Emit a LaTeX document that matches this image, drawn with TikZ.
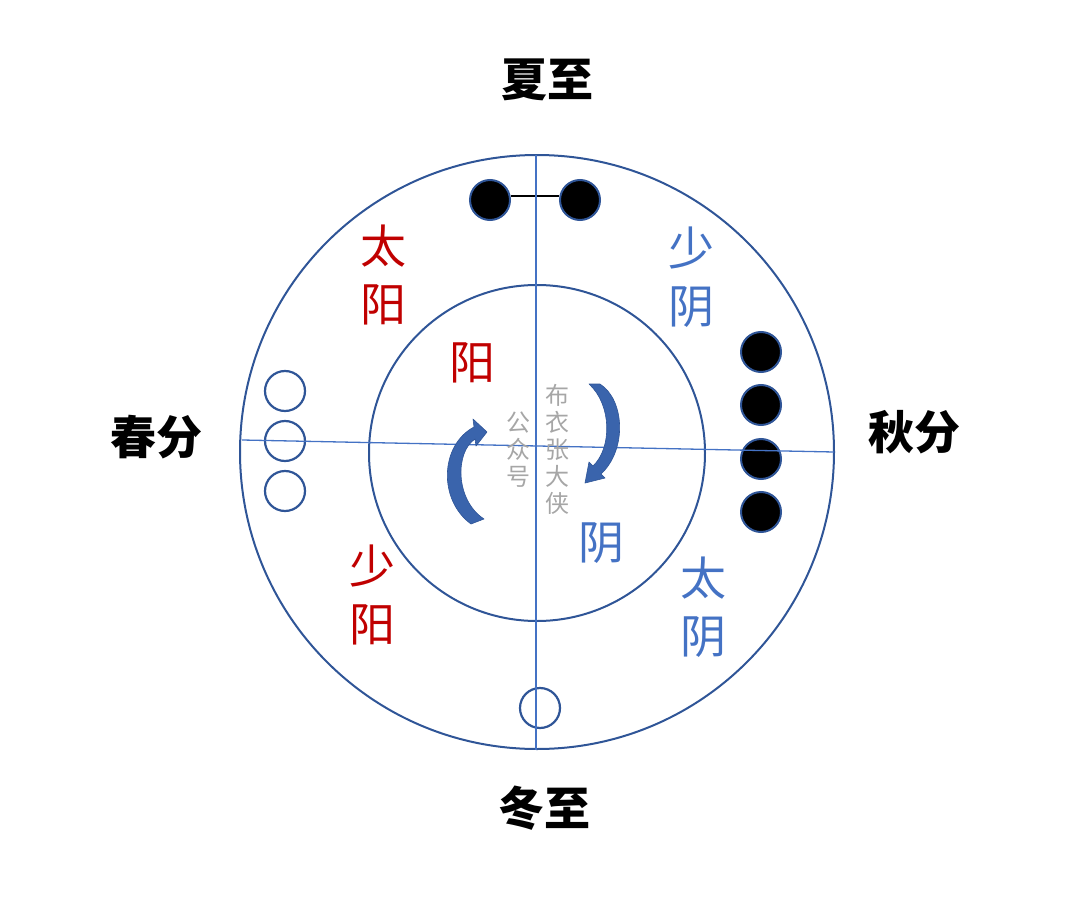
\documentclass[tikz,border=0pt]{standalone}
\usepackage{fontspec}
\newfontfamily\cjk{Noto Sans CJK SC}
\definecolor{circ}{HTML}{2F5597}
\definecolor{axis}{HTML}{4472C4}
\definecolor{yangred}{HTML}{C00000}
\definecolor{yinblue}{HTML}{4472C4}
\definecolor{wm}{HTML}{A6A6A6}
\definecolor{arrowblue}{HTML}{3A64AC}
\tikzset{
  bigring/.style={circle, draw=circ, line width=2pt, inner sep=0pt},
  fulldot/.style={circle, draw=circ, fill=black, line width=2pt, minimum size=40pt, inner sep=0pt},
  opendot/.style={circle, draw=circ, line width=2.2pt, minimum size=40pt, inner sep=0pt},
  axisline/.style={draw=axis, line width=1.3pt},
  seasonlbl/.style={font=\cjk\bfseries\fontsize{46}{46}\selectfont, text=black, inner sep=0pt},
  yanglbl/.style={font=\cjk\fontsize{46}{58}\selectfont, text=yangred, align=center, inner sep=0pt},
  yinlbl/.style={font=\cjk\fontsize{46}{58}\selectfont, text=yinblue, align=center, inner sep=0pt},
  wmlbl/.style={font=\cjk\fontsize{24}{27}\selectfont, text=wm, align=center, inner sep=0pt},
  turnarrow/.style={fill=arrowblue, draw=circ, line width=0.6pt, line join=round}
}
\begin{document}
\begin{tikzpicture}[x=1pt,y=-1pt]
\useasboundingbox (0,0) rectangle (1080,899);
% rings
\node[bigring, minimum size=594pt] (outer) at (537,452) {};
\node[bigring, minimum size=336pt] (inner) at (537,453) {};
% markers
\node[fulldot] (s1) at (490,200) {};
\node[fulldot] (s2) at (580,200) {};
\draw[black, line width=1.3pt] ([yshift=4pt]s1.east) -- ([yshift=4pt]s2.west);
\node[fulldot] (r1) at (761,352) {};
\node[fulldot] (r2) at (761,405) {};
\node[fulldot] (r3) at (761,459) {};
\node[fulldot] (r4) at (761,512) {};
\node[opendot] (l1) at (285,391) {};
\node[opendot] (l2) at (285,441) {};
\node[opendot] (l3) at (285,491) {};
\node[opendot] (w1) at (540,708) {};
% axes
\coordinate (vtop) at (536,155);
\coordinate (vbot) at (536,750);
\coordinate (hleft) at (242,440);
\coordinate (hright) at (834,452);
\draw[axisline] (vtop) -- (vbot);
\draw[axisline] (hleft) -- (hright);
% turning arrows
\fill[turnarrow] (471,524) .. controls (438,500) and (440,445) .. (474,427)
  -- (473,419) -- (487,432) -- (476,446) -- (475,439)
  .. controls (455,452) and (455,500) .. (484,519) -- cycle;
\fill[turnarrow] (600,384) .. controls (625,400) and (627,450) .. (601,474)
  -- (605,478) -- (585,483) -- (589,462) -- (593,466)
  .. controls (612,448) and (612,405) .. (589,384) -- cycle;
% season labels
\node[seasonlbl] (xiazhi) at (547,80) {夏至};
\node[seasonlbl] (dongzhi) at (544,808) {冬至};
\node[seasonlbl] (chunfen) at (156,437) {春分};
\node[seasonlbl] (qiufen) at (914,432) {秋分};
% yin yang labels
\node[yanglbl] (taiyang) at (383,275) {太\\阳};
\node[yinlbl] (shaoyin) at (691,277) {少\\阴};
\node[yanglbl] (yang) at (472,363) {阳};
\node[yinlbl] (yin) at (601,543) {阴};
\node[yanglbl] (shaoyang) at (372,595) {少\\阳};
\node[yinlbl] (taiyin) at (703,607) {太\\阴};
% watermark
\node[wmlbl] (gzh) at (518,450) {公\\众\\号};
\node[wmlbl] (byzdx) at (557,449) {布\\衣\\张\\大\\侠};
\end{tikzpicture}
\end{document}
